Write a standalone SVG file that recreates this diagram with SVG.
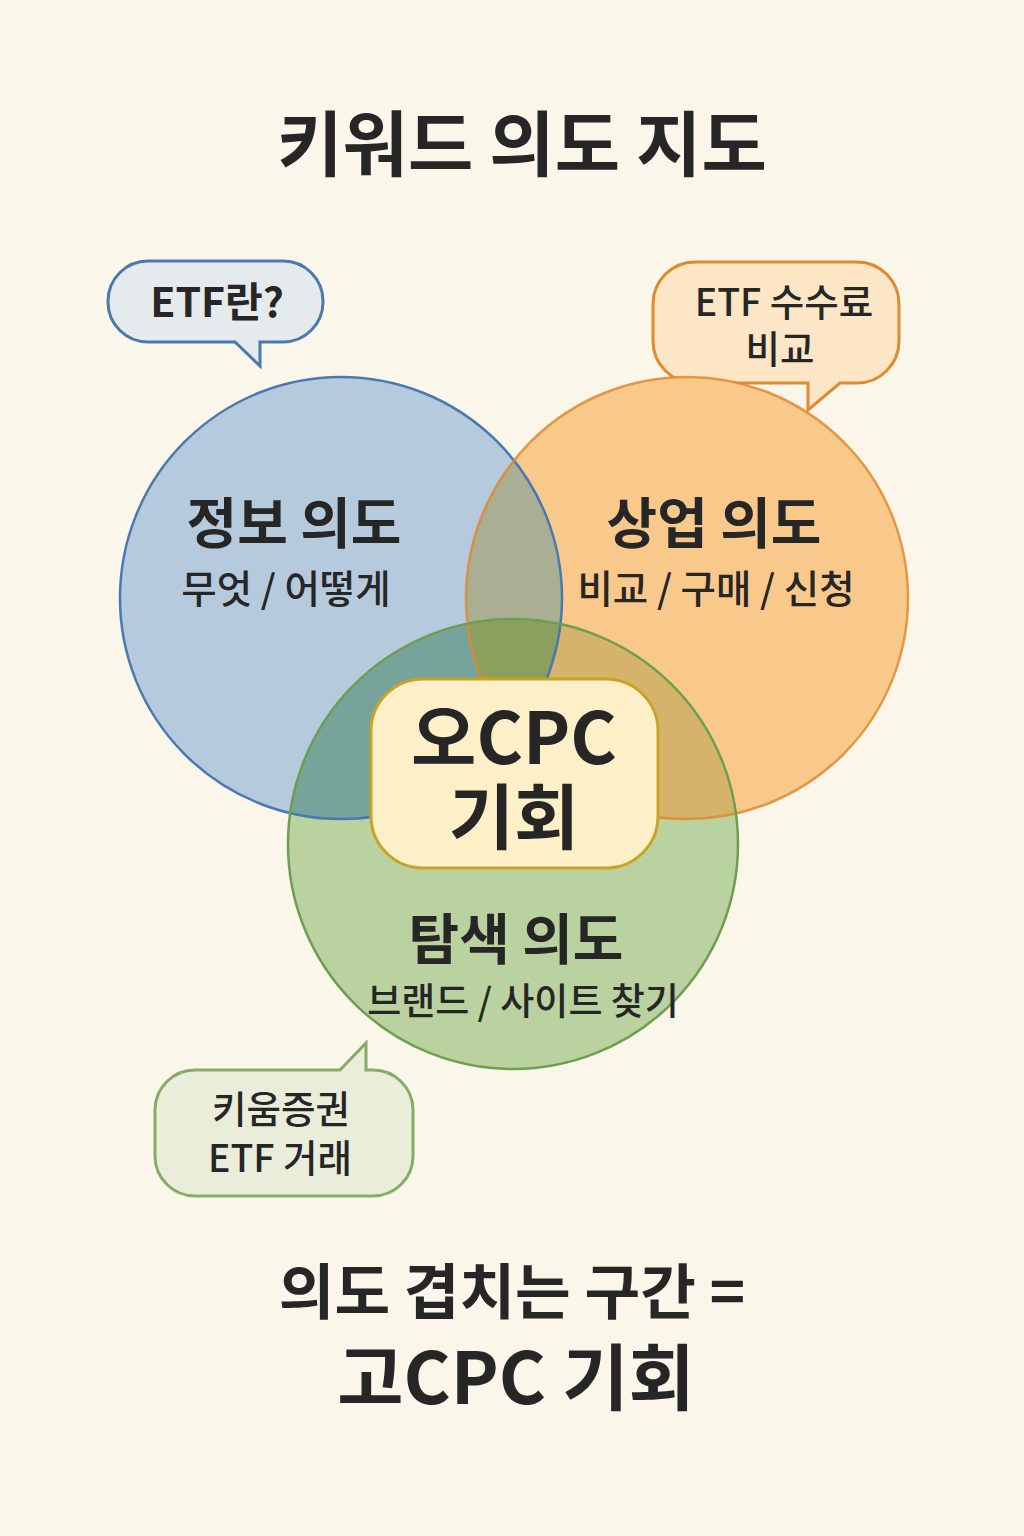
<svg xmlns="http://www.w3.org/2000/svg" width="1024" height="1536" viewBox="0 0 1024 1536">
<style>
text{font-family:"Noto Sans CJK KR","Noto Sans",sans-serif;fill:#262626;text-anchor:middle;font-weight:700}
.t{font-size:71px}
.h{font-size:55px}
.s{font-size:38.5px;font-weight:500}
.b{font-size:37.5px;font-weight:500}
.c{font-size:71px}
.ring{fill:none;stroke-width:2.5}
</style>
<defs>
<clipPath id="cb"><circle cx="341" cy="598" r="221"/></clipPath>
<clipPath id="co"><circle cx="687" cy="598" r="221"/></clipPath>
</defs>
<rect width="1024" height="1536" fill="#fbf6ea"/>
<text class="t" x="522" y="170">키워드 의도 지도</text>
<g id="connectors"></g>
<g id="bubble-info">
<path d="M148,261 H283 A40,40 0 0 1 323,301 V302 A40,40 0 0 1 283,342 H260 V366 L235,342 H148 A40,40 0 0 1 108,302 V301 A40,40 0 0 1 148,261 Z" fill="#e5eaec" stroke="#4a78b0" stroke-width="3"/>
<text x="217" y="317" style="font-size:41px">ETF란?</text>
</g>
<g id="bubble-commercial">
<path d="M695,262 H857 A42,42 0 0 1 899,304 V341 A42,42 0 0 1 857,383 H840 L808,410 V383 H695 A42,42 0 0 1 653,341 V304 A42,42 0 0 1 695,262 Z" fill="#fde6c6" stroke="#df8a30" stroke-width="3"/>
<text class="b" x="784" y="316">ETF 수수료</text>
<text class="b" x="780" y="363">비교</text>
</g>
<g id="circle-info"><circle cx="341" cy="598" r="221" fill="#b6cade"/></g>
<g id="circle-commercial"><circle cx="687" cy="598" r="221" fill="#f9c98b"/>
<circle cx="687" cy="598" r="221" fill="#aaae92" clip-path="url(#cb)"/></g>
<g id="circle-nav"><circle cx="513" cy="844" r="225" fill="#b9d29f"/>
<circle cx="513" cy="844" r="225" fill="#76a49b" clip-path="url(#cb)"/>
<circle cx="513" cy="844" r="225" fill="#d6b36b" clip-path="url(#co)"/>
<g clip-path="url(#cb)"><circle cx="513" cy="844" r="225" fill="#8aa05e" clip-path="url(#co)"/></g>
</g>
<g id="rings">
<circle class="ring" cx="341" cy="598" r="221" stroke="#4a78b0"/>
<circle class="ring" cx="687" cy="598" r="221" stroke="#df8a30" stroke-opacity="0.85"/>
<circle class="ring" cx="513" cy="844" r="225" stroke="#6e9e50"/>
</g>
<g id="label-info">
<text class="h" x="294" y="543">정보 의도</text>
<text class="s" x="286" y="603">무엇 / 어떻게</text>
</g>
<g id="label-commercial">
<text class="h" x="714" y="543">상업 의도</text>
<text class="s" x="716" y="603">비교 / 구매 / 신청</text>
</g>
<g id="label-nav">
<text class="h" x="516" y="959">탐색 의도</text>
<text class="s" x="523" y="1015" style="font-size:37px">브랜드 / 사이트 찾기</text>
</g>
<g id="center">
<rect x="371" y="679" width="287" height="189" rx="52" fill="#fdefc8" stroke="#c9a227" stroke-width="3"/>
<text class="c" x="514" y="764">오CPC</text>
<text class="c" x="514" y="843">기회</text>
</g>
<g id="bubble-nav">
<path d="M195,1070 H340 L366,1043 V1070 H373 A40,40 0 0 1 413,1110 V1156 A40,40 0 0 1 373,1196 H195 A40,40 0 0 1 155,1156 V1110 A40,40 0 0 1 195,1070 Z" fill="#ebeddb" stroke="#86ac68" stroke-width="3"/>
<text class="b" x="281" y="1123">키움증권</text>
<text class="b" x="280" y="1172">ETF 거래</text>
</g>
<text x="512" y="1314" style="font-size:60.5px">의도 겹치는 구간 =</text>
<text x="516" y="1404" style="font-size:72px">고CPC 기회</text>
</svg>
